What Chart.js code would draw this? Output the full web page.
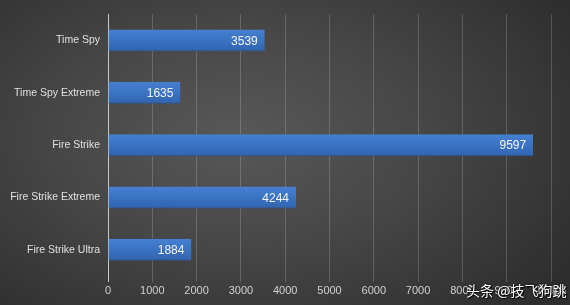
<html>
  <head>
    <script src="https://cdn.jsdelivr.net/npm/chart.js"></script>
    <style>
    body {
        margin: 0;
        width: 570px;
        height: 305px;
        overflow: hidden;
        background: radial-gradient(ellipse 70% 80% at 42% 45%, #585858 0%, #474747 45%, #343434 85%, #2d2d2d 100%);
        position: relative;
    }
    #chart_div {
        width: 570px;
        height: 305px;
    }
    #mark {
        position: absolute;
        left: 466px;
        top: 280px;
        font-family: "Noto Sans CJK SC";
        font-size: 14px;
        color: #ffffff;
        text-shadow: 0 0 2px #000, 1px 1px 1px #000;
        white-space: nowrap;
    }
    </style>
  </head>
  <body>
    <div id="chart_div"><canvas id="scoreChart" width="570" height="305"></canvas></div>
    <div id="mark">头条 @技飞狗跳</div>

    <script type="text/javascript">
      // benchmark names and scores
      var tests = ["Time Spy", "Time Spy Extreme", "Fire Strike", "Fire Strike Extreme", "Fire Strike Ultra"];
      var scores = [3539, 1635, 9597, 4244, 1884];
      var xTicks = [0, 1000, 2000, 3000, 4000, 5000, 6000, 7000, 8000, 9000, 10000];

      // write the score inside the end of each bar
      var valueLabels = {
        id: 'valueLabels',
        afterDatasetsDraw: function (chart) {
          var ctx = chart.ctx;
          var meta = chart.getDatasetMeta(0);
          ctx.save();
          ctx.font = '12px "Liberation Sans"';
          ctx.fillStyle = '#f4f4f4';
          ctx.textAlign = 'right';
          ctx.textBaseline = 'middle';
          meta.data.forEach(function (bar, i) {
            ctx.fillText(scores[i], bar.x - 7, bar.y + 1);
          });
          ctx.restore();
        }
      };

      // vertical shading on each bar, lighter at the top
      function barFill(c) {
        var chart = c.chart;
        var y = chart.scales.y;
        if (!y || c.dataIndex === undefined) return '#3b73c3';
        var mid = y.getPixelForValue(c.dataIndex);
        if (!isFinite(mid)) return '#3b73c3';
        var g = chart.ctx.createLinearGradient(0, mid - 11, 0, mid + 11);
        g.addColorStop(0, '#4680d0');
        g.addColorStop(0.5, '#3b73c3');
        g.addColorStop(1, '#2f63ae');
        return g;
      }

      const ctx = document.getElementById('scoreChart');

      new Chart(ctx, {
        type: 'bar',
        data: {
          labels: tests,
          datasets: [{
            data: scores,
            backgroundColor: barFill,
            borderColor: '#2a5595',
            borderWidth: {top: 0, right: 0, bottom: 1, left: 0},
            borderSkipped: false,
            categoryPercentage: 1,
            barPercentage: 0.42
          }]
        },
        options: {
          indexAxis: 'y',
          responsive: false,
          animation: false,
          layout: {
            padding: {top: 12, right: 19, left: 0, bottom: 0}
          },
          plugins: {
            legend: {display: false},
            tooltip: {enabled: false}
          },
          scales: {
            x: {
              min: 0,
              max: 10000,
              afterBuildTicks: function (scale) {
                scale.ticks = xTicks.map(function (v) { return {value: v}; });
              },
              afterFit: function (scale) { scale.height = 29; },
              border: {display: false},
              grid: {
                color: function (c) { return c.index === 0 ? '#c8c8c8' : 'rgba(255,255,255,0.18)'; },
                tickLength: 6
              },
              ticks: {
                color: '#d0d0d0',
                font: {family: 'Liberation Sans', size: 11},
                padding: 2,
                maxRotation: 0,
                autoSkip: false,
                callback: function (v) { return String(v); }
              }
            },
            y: {
              afterFit: function (scale) { scale.width = 108; },
              border: {display: true, color: '#c8c8c8', width: 1},
              grid: {display: false, drawTicks: false},
              ticks: {
                color: '#e0e0e0',
                font: {family: 'Liberation Sans', size: 10.5},
                padding: 8
              }
            }
          }
        },
        plugins: [valueLabels]
      });
    </script>
  </body>
</html>
